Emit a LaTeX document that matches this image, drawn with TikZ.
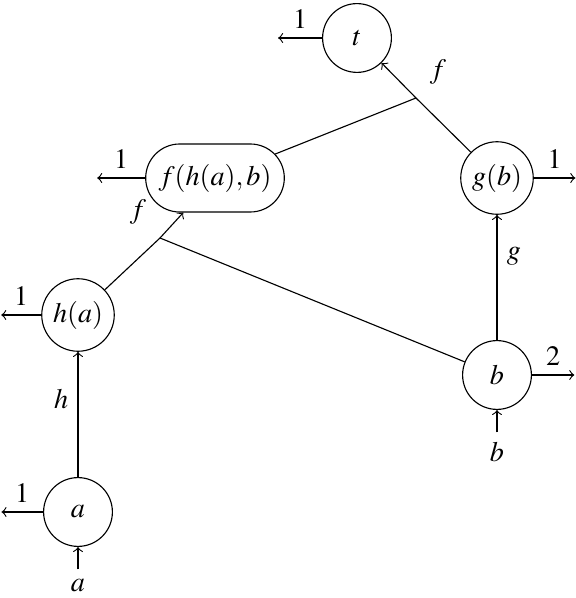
\documentclass[tikz,border=0pt]{standalone}
\usepackage{mathptmx}
\usepackage{tikz}
\usetikzlibrary{shapes.misc, positioning}
\tikzset{
  vertex/.style={circle, draw, minimum size=0.86cm, inner sep=2pt},
  pairvertex/.style={rounded rectangle, draw, minimum height=0.85cm, inner xsep=3.5pt, inner ysep=2pt},
  arrow/.style={->},
  line/.style={-}
}
\begin{document}
\begin{tikzpicture}
\useasboundingbox (0,0) rectangle (7.2,7.475);
% vertices
\node[vertex] (a) at (0.975,1.075) {$a$};
\node[vertex] (ha) at (0.975,3.5375) {$h(a)$};
\node[pairvertex] (fhab) at (2.6875,5.25) {$f(h(a),b)$};
\node[vertex] (t) at (4.4625,7.0) {$t$};
\node[vertex] (gb) at (6.2125,5.25) {$g(b)$};
\node[vertex] (b) at (6.2125,2.7875) {$b$};
% inputs
\node[below=0.28cm of a] (ain) {$a$};
\node[below=0.28cm of b] (bin) {$b$};
\draw[arrow] (ain) -- (a);
\draw[arrow] (bin) -- (b);
% outputs
\coordinate[left=0.52cm of a] (aout);
\coordinate[left=0.5cm of ha] (haout);
\coordinate[left=0.6cm of fhab] (fhabout);
\coordinate[left=0.55cm of t] (tout);
\coordinate[right=0.52cm of gb] (gbout);
\coordinate[right=0.53cm of b] (bout);
\draw[arrow] (a) -- (aout) node[midway, above] {$1$};
\draw[arrow] (ha) -- (haout) node[midway, above] {$1$};
\draw[arrow] (fhab) -- (fhabout) node[midway, above] {$1$};
\draw[arrow] (t) -- (tout) node[midway, above] {$1$};
\draw[arrow] (gb) -- (gbout) node[midway, above] {$1$};
\draw[arrow] (b) -- (bout) node[midway, above] {$2$};
% unary edges
\draw[arrow] (a) -- (ha) node[pos=0.62, left] {$h$};
\draw[arrow] (b) -- (gb) node[pos=0.67, right] {$g$};
% binary edges
\coordinate (j1) at (2.0,4.5);
\coordinate (j2) at (5.2,6.25);
\draw[line] (ha) -- (j1);
\draw[line] (b) -- (j1);
\draw[arrow] (j1) -- (fhab);
\node[above left=0.05cm and 0.05cm of j1] (f1) {$f$};
\draw[line] (fhab) -- (j2);
\draw[line] (gb) -- (j2);
\draw[arrow] (j2) -- (t);
\node[above right=0.05cm and 0.05cm of j2] (f2) {$f$};
\end{tikzpicture}
\end{document}
